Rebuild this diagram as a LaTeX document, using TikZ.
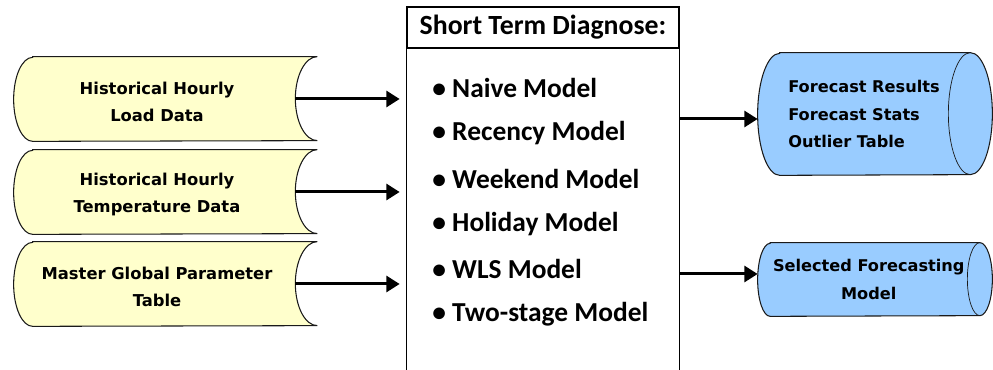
\documentclass[tikz,border=0pt]{standalone}
\usepackage{fontspec}
\usetikzlibrary{arrows.meta,backgrounds}
\newfontfamily\boxfont{DejaVu Sans}
\newfontfamily\listfont{Carlito}
\definecolor{inyellow}{HTML}{FFFFCC}
\definecolor{outblue}{HTML}{99CCFF}
\definecolor{edge}{HTML}{1A1A1A}

\begin{document}
\begin{tikzpicture}[every node/.style={text=black},
  store/.style={minimum width=5.72cm,minimum height=1.68cm,inner sep=0pt,align=center,
    font=\boxfont\bfseries\fontsize{9.3}{15.4}\selectfont},
  result/.style={inner sep=0pt,font=\boxfont\bfseries\fontsize{9.2}{15.4}\selectfont},
  item/.style={anchor=west,inner sep=0pt,font=\listfont\bfseries\fontsize{15.6}{18}\selectfont},
  flow/.style={line width=1.7pt,-{Triangle[length=7.5pt,width=9pt]}},
  outline/.style={draw=edge,line width=.6pt}]
\useasboundingbox (0,0) rectangle (19.86,7.4);
% input tables (left)
\node[store] (hload) at (3.14,5.37) {Historical Hourly\\Load Data};
\node[store] (htemp) at (3.14,3.51) {Historical Hourly\\Temperature Data};
\node[store] (mgpt) at (3.14,1.67) {Master Global Parameter\\Table};
% diagnose box, open at the bottom
\node[draw=black,line width=.8pt,minimum width=5.44cm,minimum height=.82cm,
  font=\listfont\bfseries\fontsize{15.8}{18}\selectfont] (head) at (10.86,6.85) {Short Term Diagnose:};
\node[minimum width=5.44cm,minimum height=6.44cm,inner sep=0pt,anchor=north] (diag) at (head.south) {};
\draw[line width=.8pt] (diag.south west) -- (diag.north west) (diag.north east) -- (diag.south east);
\node[item] (item1) at (8.64,5.64) {• Naive Model};
\node[item] (item2) at (8.64,4.74) {• Recency Model};
\node[item] (item3) at (8.64,3.83) {• Weekend Model};
\node[item] (item4) at (8.64,2.92) {• Holiday Model};
\node[item] (item5) at (8.64,2.03) {• WLS Model};
\node[item] (item6) at (8.64,1.11) {• Two-stage Model};
% output cylinders (right)
\node[result,align=left,minimum width=4.24cm,minimum height=2.44cm] (fcres) at (17.28,5.12)
  {Forecast Results\\Forecast Stats\\Outlier Table};
\node[result,align=center,minimum width=4.43cm,minimum height=1.46cm] (selmod) at (17.375,1.81)
  {Selected Forecasting\\Model};
\begin{pgfonlayer}{background}
\path[fill=inyellow,outline] ([shift={(.38cm,.05cm)}]hload.north west) -- ([shift={(.34cm,.05cm)}]hload.north east)
  arc[start angle=90,end angle=270,x radius=.44cm,y radius=.84cm] -- ([shift={(.38cm,.05cm)}]hload.south west)
  arc[start angle=270,end angle=90,x radius=.38cm,y radius=.84cm] -- cycle;
\path[fill=inyellow,outline] ([shift={(.38cm,.05cm)}]htemp.north west) -- ([shift={(.34cm,.05cm)}]htemp.north east)
  arc[start angle=90,end angle=270,x radius=.44cm,y radius=.84cm] -- ([shift={(.38cm,.05cm)}]htemp.south west)
  arc[start angle=270,end angle=90,x radius=.38cm,y radius=.84cm] -- cycle;
\path[fill=inyellow,outline] ([shift={(.38cm,.05cm)}]mgpt.north west) -- ([shift={(.34cm,.05cm)}]mgpt.north east)
  arc[start angle=90,end angle=270,x radius=.44cm,y radius=.84cm] -- ([shift={(.38cm,.05cm)}]mgpt.south west)
  arc[start angle=270,end angle=90,x radius=.38cm,y radius=.84cm] -- cycle;
\path[fill=outblue,outline] ([xshift=.44cm]fcres.north west) -- (fcres.north east)
  arc[start angle=90,end angle=-90,x radius=.44cm,y radius=1.22cm] -- ([xshift=.44cm]fcres.south west)
  arc[start angle=270,end angle=90,x radius=.44cm,y radius=1.22cm] -- cycle;
\draw[outline,line width=.4pt] (fcres.north east) arc[start angle=90,end angle=270,x radius=.44cm,y radius=1.22cm];
\path[fill=outblue,outline] ([xshift=.25cm]selmod.north west) -- (selmod.north east)
  arc[start angle=90,end angle=-90,x radius=.25cm,y radius=.73cm] -- ([xshift=.25cm]selmod.south west)
  arc[start angle=270,end angle=90,x radius=.25cm,y radius=.73cm] -- cycle;
\draw[outline,line width=.4pt] (selmod.north east) arc[start angle=90,end angle=270,x radius=.25cm,y radius=.73cm];
\end{pgfonlayer}
% data flow
\draw[flow,shorten >=.14cm] ([shift={(-.1cm,.05cm)}]hload.east) -- ([yshift=.05cm]hload.east -| diag.west);
\draw[flow,shorten >=.14cm] ([shift={(-.1cm,.05cm)}]htemp.east) -- ([yshift=.05cm]htemp.east -| diag.west);
\draw[flow,shorten >=.14cm] ([shift={(-.1cm,.05cm)}]mgpt.east) -- ([yshift=.05cm]mgpt.east -| diag.west);
\draw[flow] ([yshift=-.1cm]diag.east |- fcres.west) -- ([yshift=-.1cm]fcres.west);
\draw[flow] ([yshift=.11cm]diag.east |- selmod.west) -- ([yshift=.11cm]selmod.west);
\end{tikzpicture}
\end{document}
